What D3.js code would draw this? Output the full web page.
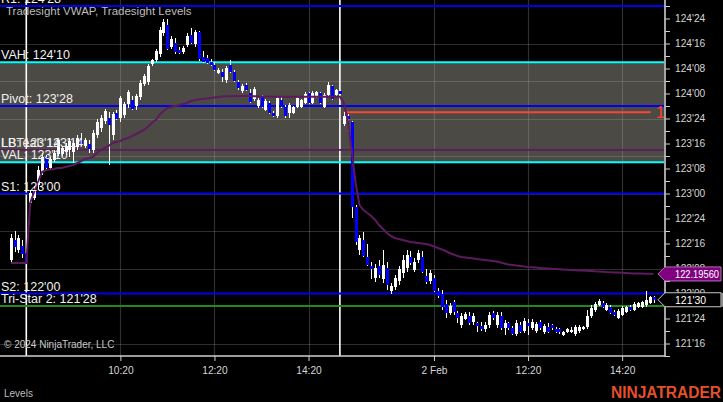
<!DOCTYPE html>
<html><head><meta charset="utf-8">
<script src="https://cdn.jsdelivr.net/npm/d3@7"></script>
<style>html,body{margin:0;padding:0;background:#000;overflow:hidden}svg{display:block}text{font-family:"Liberation Sans",Arial,sans-serif}</style>
</head><body><svg id="c" width="723" height="402"></svg>
<script>
// ---------- DATA (5-minute bars, slot index relative to Feb 1 08:20) ----------
const firstSlot = -4;
const opens = [122.335,122.535,122.435,122.475,122.405,
122.905,122.955,123.085,123.215,123.365,123.255,123.335,123.395,123.395,123.415,
123.435,123.415,123.465,123.535,123.475,123.495,123.435,123.585,123.655,123.725,
123.755,123.585,123.805,123.755,123.785,123.895,123.935,123.875,123.965,124.095,
124.115,124.295,124.335,124.395,124.605,124.685,124.465,124.505,124.435,124.415,
124.485,124.585,124.495,124.615,124.365,124.355,124.315,124.285,124.205,124.215,
124.135,124.285,124.215,124.115,124.025,124.085,124.005,123.945,123.875,123.965,
123.835,123.905,123.805,123.775,123.935,123.865,123.805,123.805,123.865,123.865,
123.905,124.005,123.905,123.965,124.005,123.865,123.985,124.075,123.985,124.025,
123.695,123.775,123.715,122.865,122.435,122.535,122.365,122.275,122.155,122.275,
122.145,122.255,122.025,122.065,122.125,122.205,122.255,122.365,122.235,122.335,
122.365,122.175,122.125,122.155,122.025,121.995,121.895,121.805,121.915,121.805,
121.685,121.745,121.775,121.715,121.705,121.675,121.645,121.685,121.805,121.685,
121.775,121.655,121.705,121.655,121.595,121.685,121.625,121.705,121.655,121.625,
121.715,121.615,121.665,121.685,121.645,121.645,121.585,121.615,121.615,121.595,
121.625,121.645,121.665,121.775,121.835,121.885,121.905,121.835,121.865,121.815,
121.755,121.785,121.815,121.865,121.835,121.865,121.865,121.885,121.905,121.965];
const highs = [122.595,122.625,122.585,122.535,122.435,
123.035,123.075,123.275,123.405,123.385,123.365,123.435,123.555,123.475,123.505,
123.555,123.535,123.585,123.605,123.555,123.535,123.635,123.745,123.785,123.845,
123.815,123.815,123.835,123.975,123.915,124.035,123.975,123.995,124.135,124.195,
124.295,124.345,124.445,124.665,124.745,124.745,124.575,124.555,124.465,124.475,
124.605,124.655,124.635,124.625,124.425,124.385,124.345,124.315,124.255,124.245,
124.275,124.335,124.235,124.135,124.095,124.105,124.045,124.065,123.955,123.985,
123.945,123.925,123.825,123.975,123.965,123.885,123.905,123.875,123.975,123.945,
124.015,124.015,124.025,124.025,124.015,124.005,124.115,124.085,124.045,124.035,
123.815,123.795,123.725,122.885,122.585,122.615,122.495,122.315,122.295,122.335,
122.435,122.315,122.105,122.185,122.275,122.385,122.435,122.425,122.355,122.435,
122.425,122.245,122.235,122.185,122.055,122.035,121.935,121.905,121.935,121.825,
121.805,121.815,121.815,121.805,121.715,121.715,121.715,121.815,121.825,121.815,
121.815,121.735,121.715,121.675,121.735,121.715,121.755,121.745,121.745,121.715,
121.735,121.695,121.705,121.695,121.665,121.655,121.625,121.655,121.665,121.685,
121.685,121.675,121.835,121.885,121.915,121.945,121.925,121.905,121.885,121.835,
121.845,121.875,121.875,121.885,121.915,121.915,121.925,122.025,121.975,121.975];
const lows = [122.305,122.415,122.405,122.355,122.305,
122.885,122.935,123.035,123.185,123.235,123.235,123.315,123.375,123.375,123.385,
123.365,123.305,123.435,123.475,123.455,123.405,123.405,123.555,123.615,123.695,
123.285,123.535,123.735,123.715,123.755,123.855,123.835,123.835,123.935,124.075,
124.085,124.275,124.315,124.365,124.575,124.435,124.445,124.395,124.395,124.395,
124.465,124.495,124.465,124.325,124.305,124.295,124.275,124.225,124.195,124.115,
124.105,124.205,124.115,124.035,124.005,124.025,123.905,123.925,123.855,123.855,
123.825,123.795,123.765,123.755,123.855,123.755,123.755,123.795,123.855,123.855,
123.895,123.895,123.895,123.955,123.895,123.855,123.975,123.935,123.975,123.985,
123.675,123.615,122.755,122.485,122.385,122.365,122.275,122.145,122.115,122.155,
122.105,122.035,121.995,122.035,122.085,122.155,122.215,122.285,122.215,122.305,
122.205,122.095,122.095,122.015,121.955,121.835,121.755,121.785,121.785,121.705,
121.655,121.735,121.685,121.685,121.615,121.625,121.615,121.655,121.735,121.655,
121.635,121.585,121.635,121.585,121.575,121.605,121.605,121.585,121.635,121.605,
121.635,121.595,121.605,121.635,121.605,121.595,121.575,121.605,121.605,121.575,
121.605,121.635,121.645,121.755,121.815,121.875,121.855,121.825,121.795,121.775,
121.745,121.775,121.805,121.825,121.825,121.855,121.855,121.865,121.895,121.905];
const closes = [122.555,122.465,122.555,122.395,122.315,
123.005,123.035,123.235,123.365,123.255,123.345,123.405,123.535,123.455,123.475,
123.525,123.505,123.555,123.495,123.535,123.445,123.605,123.715,123.755,123.825,
123.685,123.795,123.745,123.955,123.895,124.015,123.845,123.975,124.105,124.175,
124.275,124.335,124.425,124.635,124.715,124.445,124.545,124.415,124.405,124.455,
124.575,124.505,124.615,124.345,124.315,124.305,124.285,124.235,124.235,124.165,
124.255,124.215,124.125,124.055,124.075,124.035,123.915,124.045,123.935,123.865,
123.925,123.805,123.775,123.955,123.865,123.775,123.885,123.865,123.955,123.935,
123.995,123.905,124.005,124.015,123.905,123.985,124.085,123.945,124.035,123.995,
123.775,123.745,122.865,122.515,122.555,122.375,122.285,122.245,122.255,122.185,
122.285,122.085,122.075,122.155,122.245,122.335,122.385,122.305,122.315,122.405,
122.215,122.115,122.205,122.025,121.975,121.865,121.805,121.875,121.815,121.755,
121.775,121.795,121.705,121.775,121.675,121.645,121.685,121.785,121.755,121.785,
121.655,121.705,121.655,121.595,121.705,121.615,121.725,121.675,121.715,121.695,
121.655,121.675,121.615,121.655,121.615,121.615,121.615,121.645,121.635,121.665,
121.665,121.665,121.775,121.855,121.895,121.925,121.865,121.885,121.805,121.785,
121.825,121.855,121.865,121.835,121.895,121.905,121.915,121.935,121.965,121.9375];
const vwap = [122.305,122.305,122.305,122.305,122.305,
122.905,123.015,123.115,123.215,123.235,123.24,123.245,123.255,123.255,123.265,
123.275,123.285,123.305,123.325,123.345,123.355,123.365,123.405,123.435,123.455,
123.475,123.505,123.515,123.525,123.545,123.555,123.575,123.595,123.615,123.635,
123.665,123.705,123.735,123.785,123.825,123.855,123.865,123.875,123.885,123.895,
123.905,123.925,123.935,123.94,123.945,123.95,123.955,123.96,123.965,123.97,
123.972,123.973,123.974,123.975,123.975,123.975,123.974,123.973,123.972,123.971,
123.97,123.969,123.968,123.968,123.968,123.967,123.967,123.967,123.967,123.967,
123.967,123.967,123.967,123.967,123.967,123.967,123.968,123.968,123.968,123.968,
123.905,123.735,123.435,123.105,122.885,122.835,122.805,122.775,122.735,122.685,
122.645,122.605,122.575,122.555,122.545,122.535,122.525,122.515,122.51,122.505,
122.50,122.495,122.485,122.47,122.455,122.44,122.425,122.405,122.39,122.375,
122.365,122.36,122.355,122.35,122.345,122.34,122.335,122.33,122.325,122.32,
122.31,122.30,122.29,122.285,122.28,122.275,122.27,122.265,122.262,122.259,
122.255,122.253,122.25,122.247,122.245,122.242,122.239,122.237,122.235,122.233,
122.231,122.229,122.227,122.225,122.222,122.22,122.218,122.215,122.213,122.211,
122.209,122.207,122.205,122.203,122.201,122.2,122.199,122.198,122.197,122.1956];

const timeTickSlots = [24, 48, 72, 104, 128, 152];
const timeTickLabels = ["10:20", "12:20", "14:20", "2 Feb", "12:20", "14:20"];
const sessionBreakSlots = [0, 80];
const priceTickValues = [121.375,121.5,121.625,121.75,121.875,122,122.125,122.25,122.375,122.5,122.625,122.75,122.875,123,123.125,123.25,123.375,123.5,123.625,123.75,123.875,124,124.125,124.25,124.375,124.5,124.625,124.75,124.875];
const gridPrices = [121.5,121.875,122.25,122.625,123,123.375,123.75,124.125,124.5,124.875];
const levelNames = ["R1","VAH","Pivot","LBTeal","LB","VAL","S1","S2","Tri-Star 2"];
const levelPrices = [124.875,124.3125,123.875,123.4375,123.4375,123.3125,123.0,122.0,121.875];
const levelColors = ["#0000ee","#00ffff","#0000ee","#5e1a5e","#5e1a5e","#00ffff","#0000ee","#0000ee","#1f8a1f"];
const levelWidths = [2,2,2,1.3,1.3,2,2,2,2];
const valueAreaHigh = 124.3125, valueAreaLow = 123.3125;
const redLevelPrice = 123.8125, redLevelStartSlot = 81, redLevelEndSlot = 159.3;

// ---------- CHART ----------
const W = 723, H = 402, plotR = 664, plotB = 356;
const svg = d3.select("#c");
svg.append("rect").attr("width", W).attr("height", H).attr("fill", "#000");

const x = d3.scaleLinear().domain([0, 80]).range([26.3, 339.9]);
const y = d3.scaleLinear().domain([121.375, 124.935]).range([plotB, 0]);
const fmt32 = p => { let w = Math.floor(p + 1e-9); let t = Math.round((p - w) * 32); if (t === 32) { w++; t = 0; } return w + "'" + String(t).padStart(2, "0"); };

svg.append("clipPath").attr("id", "clip").append("rect").attr("x", 0).attr("y", 0).attr("width", plotR).attr("height", plotB);
const plot = svg.append("g").attr("clip-path", "url(#clip)");

// value area band
plot.append("rect").attr("x", 0).attr("width", plotR).attr("y", y(valueAreaHigh)).attr("height", y(valueAreaLow) - y(valueAreaHigh)).attr("fill", "#4b4a45");

// gridlines
plot.selectAll("line.gh").data(gridPrices).join("line").attr("x1", 0).attr("x2", plotR)
  .attr("y1", d => Math.round(y(d)) + 0.5).attr("y2", d => Math.round(y(d)) + 0.5)
  .attr("stroke", "rgba(170,170,170,0.28)").attr("stroke-width", 1.2);
plot.selectAll("line.gv").data(timeTickSlots).join("line").attr("y1", 0).attr("y2", plotB)
  .attr("x1", d => Math.round(x(d)) + 0.5).attr("x2", d => Math.round(x(d)) + 0.5)
  .attr("stroke", "rgba(170,170,170,0.28)").attr("stroke-width", 1.2);

// session breaks
plot.selectAll("line.sb").data(sessionBreakSlots).join("line").attr("y1", 0).attr("y2", plotB)
  .attr("x1", d => x(d)).attr("x2", d => x(d)).attr("stroke", "#fff").attr("stroke-width", 1.6);

// level lines
levelPrices.forEach((p, i) => {
  plot.append("line").attr("x1", 0).attr("x2", plotR).attr("y1", y(p)).attr("y2", y(p))
    .attr("stroke", levelColors[i]).attr("stroke-width", levelWidths[i]);
});

// red level line
plot.append("line").attr("x1", x(redLevelStartSlot)).attr("x2", x(redLevelEndSlot))
  .attr("y1", y(redLevelPrice)).attr("y2", y(redLevelPrice)).attr("stroke", "#ff4433").attr("stroke-width", 2);
plot.append("text").attr("x", 656).attr("y", y(redLevelPrice) + 6).attr("fill", "#ff4433")
  .attr("font-size", 16).text(fmt32(redLevelPrice));

// candles
const bars = opens.map((o, i) => ({ s: firstSlot + i, o, h: highs[i], l: lows[i], c: closes[i] }));
const cg = plot.append("g");
bars.forEach(b => {
  const cx = Math.round(x(b.s));
  cg.append("line").attr("x1", cx + 0.5).attr("x2", cx + 0.5).attr("y1", y(b.h)).attr("y2", y(b.l))
    .attr("stroke", "#fff").attr("stroke-width", 1);
  const top = y(Math.max(b.o, b.c)), bot = y(Math.min(b.o, b.c));
  cg.append("rect").attr("x", cx - 1).attr("width", 3).attr("y", top).attr("height", Math.max(1, bot - top))
    .attr("fill", b.c >= b.o ? "#ffffff" : "#0000ff");
});

// VWAP
plot.append("path").datum(vwap.map((v, i) => [firstSlot + i, v]))
  .attr("d", d3.line().x(d => x(d[0])).y(d => y(d[1])))
  .attr("fill", "none").attr("stroke", "#5e1a5e").attr("stroke-width", 2);

// level labels
levelPrices.forEach((p, i) => {
  plot.append("text").attr("x", 1).attr("y", y(p) - 3).attr("fill", "#f0f0f0").attr("font-size", 12.5)
    .text(levelNames[i] + ": " + fmt32(p));
});

// indicator title
svg.append("text").attr("x", 6).attr("y", 15).attr("fill", "#bdbdbd").attr("font-size", 11.5).text("Tradesight VWAP, Tradesight Levels");

// axes
const ya = svg.append("g").attr("transform", `translate(${plotR + 1},0)`)
  .call(d3.axisRight(y).tickValues(priceTickValues).tickSize(5).tickPadding(5)
    .tickFormat(d => Math.abs(d * 4 - Math.round(d * 4)) < 1e-9 ? fmt32(d) : ""));
ya.select(".domain").remove();
ya.selectAll("line").attr("stroke", "#cfcfcf");
ya.selectAll("text").attr("fill", "#d6d6d6").attr("font-size", 10.2).attr("font-family", '"Liberation Sans",Arial,sans-serif');
svg.append("line").attr("x1", plotR + 1).attr("x2", plotR + 1).attr("y1", 0).attr("y2", plotB + 1).attr("stroke", "#cfcfcf").attr("stroke-width", 1.6);

const xa = svg.append("g").attr("transform", `translate(0,${plotB})`)
  .call(d3.axisBottom(x).tickValues(timeTickSlots).tickSize(5).tickPadding(6).tickFormat((d, i) => timeTickLabels[i]));
xa.select(".domain").remove();
xa.selectAll("line").attr("stroke", "#cfcfcf");
xa.selectAll("text").attr("fill", "#d6d6d6").attr("font-size", 10.2).attr("font-family", '"Liberation Sans",Arial,sans-serif');
svg.append("line").attr("x1", 0).attr("x2", plotR + 1).attr("y1", plotB).attr("y2", plotB).attr("stroke", "#cfcfcf").attr("stroke-width", 1.6);

// price tags
const lastV = vwap[vwap.length - 1], lastC = closes[closes.length - 1];
function tag(p, fill, stroke, label, fit) {
  const cy = y(p);
  svg.append("path").attr("d", `M658,${cy} L665,${cy - 7} L721,${cy - 7} L721,${cy + 7} L665,${cy + 7} Z`)
    .attr("fill", fill).attr("stroke", stroke).attr("stroke-width", 1);
  const t = svg.append("text").attr("x", 675).attr("y", cy + 4).attr("fill", "#fff").attr("font-size", 10.5).text(label);
  if (fit) t.attr("textLength", fit).attr("lengthAdjust", "spacingAndGlyphs");
}
tag(lastV, "#800080", "#b070b0", lastV.toFixed(5), 44);
tag(lastC, "#000", "#c8c8c8", fmt32(lastC), null);
svg.append("rect").attr("x", 721).attr("y", y(lastC) - 7).attr("width", 2).attr("height", 14).attr("fill", "#8a8a8a");

// footer texts
svg.append("text").attr("x", 4).attr("y", 348).attr("fill", "#c8c8c8").attr("font-size", 10).text("© 2024 NinjaTrader, LLC");
svg.append("text").attr("x", 4).attr("y", 397).attr("fill", "#bdbdbd").attr("font-size", 10).text("Levels");
svg.append("text").attr("x", 611).attr("y", 398).attr("fill", "#e4502b").attr("font-size", 16).attr("font-weight", "bold")
  .attr("textLength", 110).attr("lengthAdjust", "spacingAndGlyphs").text("NINJATRADER");
</script></body></html>
